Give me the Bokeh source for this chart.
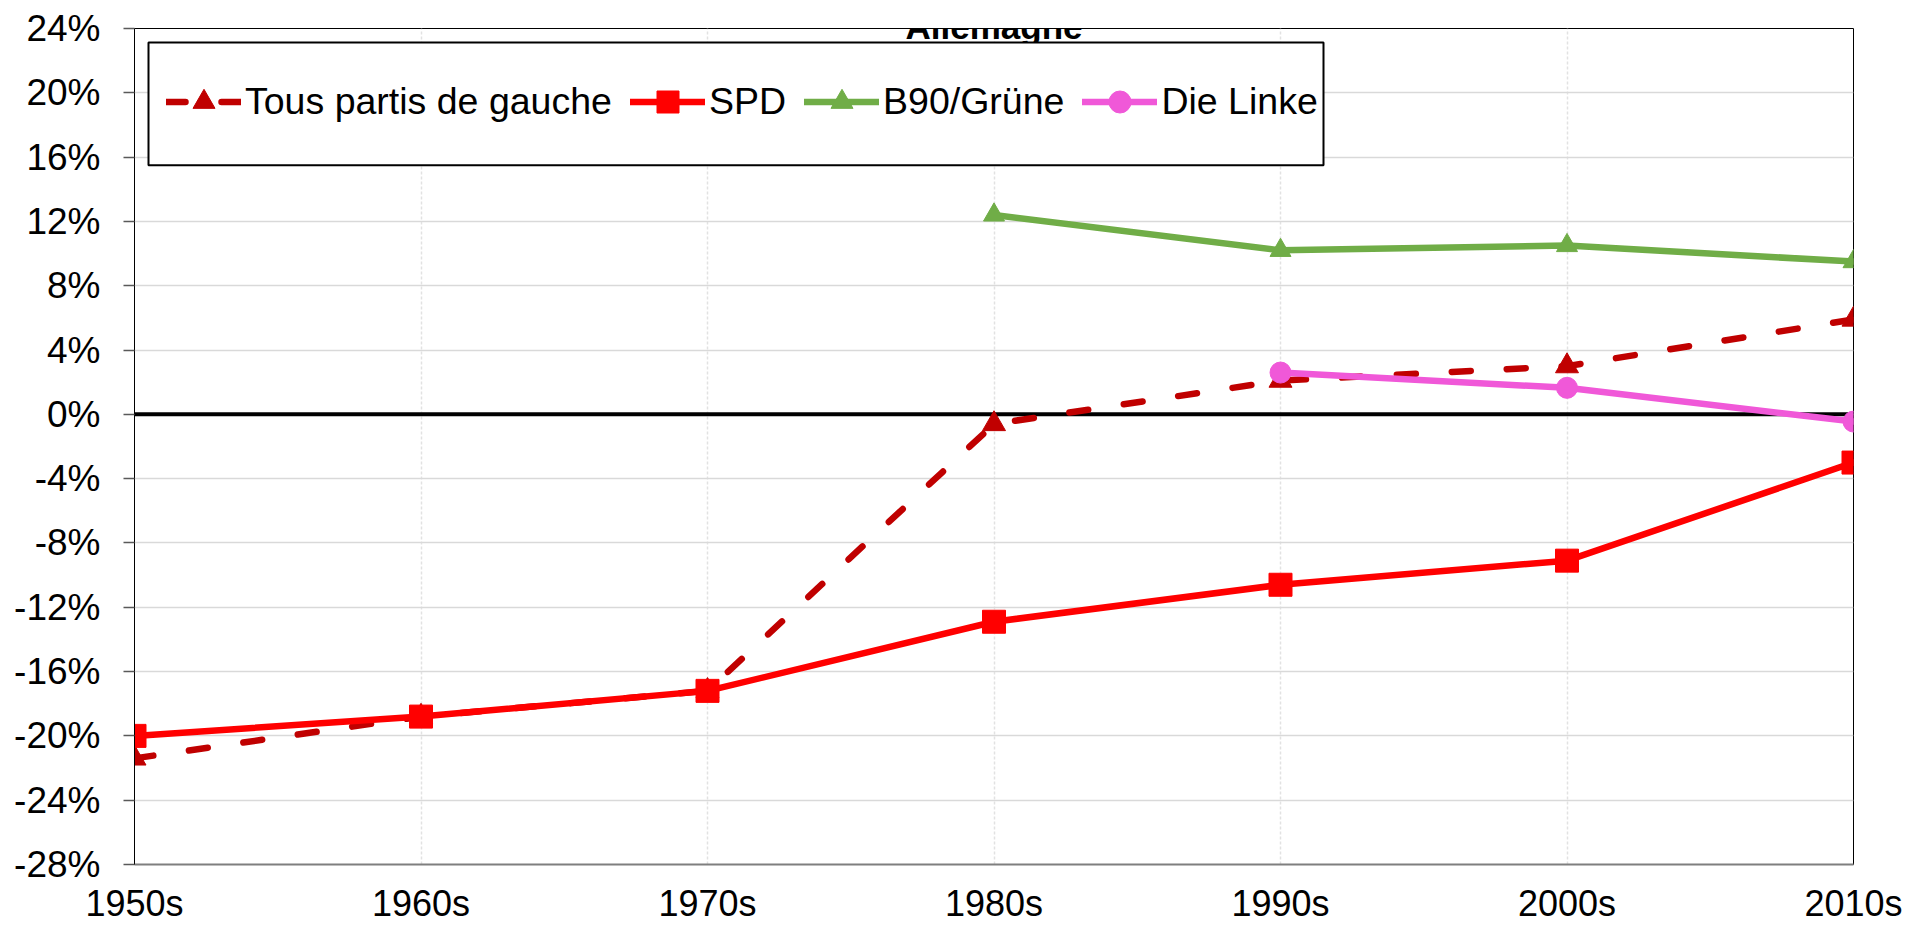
from bokeh.plotting import figure
from bokeh.models import (Range1d, FixedTicker, Span, Legend, LegendItem,
                          Label, BoxAnnotation)
from bokeh.embed import file_html
from bokeh.resources import INLINE

# ---------------- data ----------------
decades = ["1950s", "1960s", "1970s", "1980s", "1990s", "2000s", "2010s"]
tous_gauche = [-21.4, -18.8, -17.2, -0.6, 2.1, 3.0, 5.9]
spd = [-20.0, -18.8, -17.2, -12.9, -10.6, -9.1, -3.0]
gruene_decades = ["1980s", "1990s", "2000s", "2010s"]
gruene = [12.4, 10.2, 10.5, 9.5]
linke_decades = ["1990s", "2000s", "2010s"]
linke = [2.6, 1.65, -0.45]
y_ticks = [-28, -24, -20, -16, -12, -8, -4, 0, 4, 8, 12, 16, 20, 24]
y_tick_labels = ["-28%", "-24%", "-20%", "-16%", "-12%", "-8%", "-4%", "0%",
                 "4%", "8%", "12%", "16%", "20%", "24%"]
series_names = ["Tous partis de gauche", "SPD", "B90/Grüne", "Die Linke"]
title_text = "Allemagne"

# ---------------- layout ----------------
FONT = "Liberation Sans"
W, H = 1910, 926
BL, BR, BT, BB = 134, 57, 28, 60
FW, FH = W - BL - BR, H - BT - BB
Y0, Y1 = y_ticks[0], y_ticks[-1]
ppu_y = FH / (Y1 - Y0)
ppu_x = FW / (len(decades) - 1)

pos = {d: i for i, d in enumerate(decades)}
xs_all = [pos[d] for d in decades]
xs_gr = [pos[d] for d in gruene_decades]
xs_li = [pos[d] for d in linke_decades]

p = figure(width=W, height=H, x_range=Range1d(0, len(decades) - 1),
           y_range=Range1d(Y0, Y1), output_backend="svg", toolbar_location=None,
           min_border_left=BL, min_border_right=BR, min_border_top=BT,
           min_border_bottom=BB)
p.title.visible = False
p.outline_line_color = "black"
p.outline_line_width = 1
p.background_fill_color = "white"
p.border_fill_color = "white"

# y axis
p.yaxis.ticker = FixedTicker(ticks=y_ticks)
p.yaxis.major_label_overrides = dict(zip(y_ticks, y_tick_labels))
p.yaxis.major_label_text_font = FONT
p.yaxis.major_label_text_font_size = "37px"
p.yaxis.major_label_text_color = "black"
p.yaxis.major_label_standoff = 23
p.yaxis.major_tick_out = 11
p.yaxis.major_tick_in = 0
p.yaxis.minor_tick_out = 0
p.yaxis.minor_tick_in = 0
p.yaxis.axis_line_color = "black"
p.yaxis.axis_line_width = 1
p.yaxis.major_tick_line_color = "#595959"
p.yaxis.major_tick_line_width = 1.5

# x axis
p.xaxis.ticker = FixedTicker(ticks=xs_all)
p.xaxis.major_label_overrides = dict(zip(xs_all, decades))
p.xaxis.major_label_text_font = FONT
p.xaxis.major_label_text_font_size = "36px"
p.xaxis.major_label_text_color = "black"
p.xaxis.major_label_standoff = 18
p.xaxis.major_tick_out = 0
p.xaxis.major_tick_in = 0
p.xaxis.minor_tick_out = 0
p.xaxis.minor_tick_in = 0
p.xaxis.axis_line_color = "#7f7f7f"
p.xaxis.axis_line_width = 2

# grids
p.xgrid.ticker = FixedTicker(ticks=xs_all)
p.xgrid.grid_line_color = "#e2e2e2"
p.xgrid.grid_line_width = 1.5
p.xgrid.grid_line_dash = "3 2"
p.ygrid.ticker = FixedTicker(ticks=y_ticks)
p.ygrid.grid_line_color = "#d9d9d9"
p.ygrid.grid_line_width = 1.5

p.add_layout(Span(location=0, dimension="width", line_color="black",
                  line_width=4, level="underlay"))

# series
C_TG, C_SPD, C_GR, C_LI = "#C00000", "#FF0000", "#70AD47", "#F058D8"
LW = 6.5
r1l = p.line(xs_all, tous_gauche, line_color=C_TG, line_width=LW,
             line_dash="19 36", line_cap="round")
r1m = p.scatter(xs_all, tous_gauche, marker="triangle", size=23,
                fill_color=C_TG, line_color=C_TG)
r2l = p.line(xs_all, spd, line_color=C_SPD, line_width=LW, line_cap="round",
             line_join="round")
r2m = p.scatter(xs_all, spd, marker="square", size=23,
                fill_color=C_SPD, line_color=C_SPD)
r3l = p.line(xs_gr, gruene, line_color=C_GR, line_width=LW, line_cap="round",
             line_join="round")
r3m = p.scatter(xs_gr, gruene, marker="triangle", size=21,
                fill_color=C_GR, line_color=C_GR)
r4l = p.line(xs_li, linke, line_color=C_LI, line_width=LW, line_cap="round",
             line_join="round")
r4m = p.scatter(xs_li, linke, marker="circle", size=21,
                fill_color=C_LI, line_color=C_LI)

# title, kept fully inside the canvas just above the plot frame
p.add_layout(Label(x=(len(decades) - 1) / 2, y=Y1 + 2 / ppu_y, text=title_text,
                   text_font=FONT, text_font_size="35px", text_font_style="bold",
                   text_align="center", text_baseline="alphabetic",
                   text_color="black"))

# legend frame + legend
box = BoxAnnotation(left=14 / ppu_x, right=(1323 - BL) / ppu_x,
                    top=Y1 - 14 / ppu_y, bottom=Y1 - 137 / ppu_y,
                    fill_color="white", fill_alpha=1.0, line_color="black",
                    line_width=2, line_alpha=1.0, level="annotation")
p.add_layout(box)

legend = Legend(items=[
    LegendItem(label=series_names[0], renderers=[r1l, r1m]),
    LegendItem(label=series_names[1], renderers=[r2l, r2m]),
    LegendItem(label=series_names[2], renderers=[r3l, r3m]),
    LegendItem(label=series_names[3], renderers=[r4l, r4m]),
], orientation="horizontal", location=(14, FH - 137 + 16), padding=18,
    spacing=18, glyph_width=75, glyph_height=55, label_height=55,
    label_standoff=4, label_text_font=FONT, label_text_font_size="37.5px",
    label_text_color="black", border_line_alpha=0, background_fill_alpha=0,
    margin=0)
p.add_layout(legend)

open("out.html", "w").write(file_html(p, INLINE))
